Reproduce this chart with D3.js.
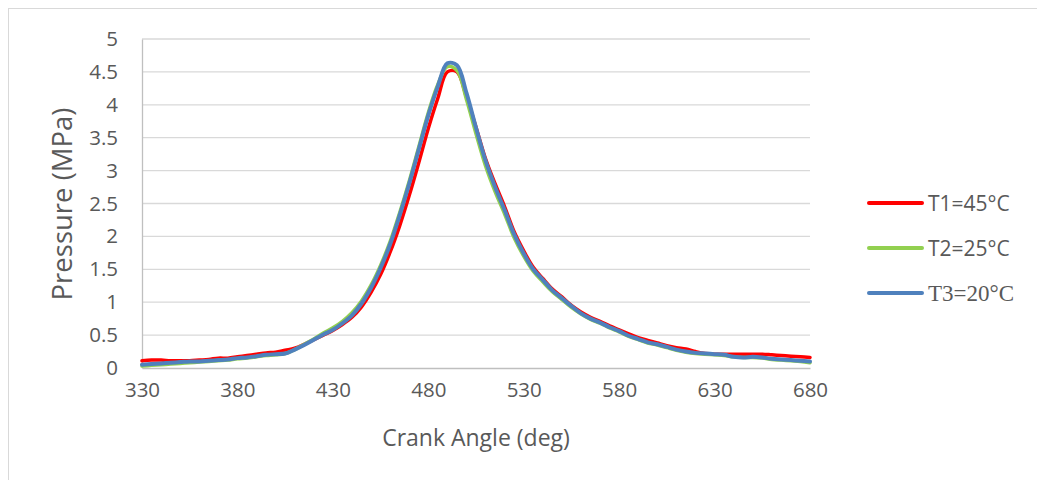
<html><head>
<meta charset="UTF-8">
<title>Pressure vs Crank Angle</title>
<style>
  body { margin: 0; padding: 0; background: #fff; overflow: hidden; }
  svg text { font-family: "Open Sans", Calibri, sans-serif; fill: #595959; }
</style>
</head>
<body>
<div id="chart"></div>
<script src="https://d3js.org/d3.v7.min.js"></script>
<script>
  const width = 1037;
  const height = 480;

  // crank angle, deg (5 deg steps)
  const angles = d3.range(330, 681, 5);

  // pressure, MPa
  const t1 = [0.11, 0.12, 0.12, 0.11, 0.11, 0.11, 0.12, 0.13, 0.15, 0.15,
              0.17, 0.19, 0.21, 0.23, 0.24, 0.27, 0.30, 0.36, 0.43, 0.50,
              0.57, 0.66, 0.77, 0.93, 1.15, 1.42, 1.76, 2.16, 2.62, 3.12,
              3.64, 4.10, 4.50, 4.50, 4.12, 3.66, 3.18, 2.80, 2.45, 2.07,
              1.78, 1.53, 1.36, 1.20, 1.08, 0.95, 0.85, 0.77, 0.71, 0.64,
              0.58, 0.52, 0.46, 0.42, 0.38, 0.34, 0.31, 0.29, 0.25, 0.22,
              0.21, 0.21, 0.21, 0.21, 0.21, 0.21, 0.20, 0.19, 0.18, 0.17, 0.16];

  const t2 = [0.03, 0.04, 0.05, 0.06, 0.07, 0.08, 0.09, 0.10, 0.11, 0.12,
              0.14, 0.15, 0.17, 0.19, 0.20, 0.22, 0.28, 0.36, 0.44, 0.53,
              0.61, 0.71, 0.84, 1.02, 1.26, 1.56, 1.92, 2.36, 2.84, 3.36,
              3.88, 4.31, 4.58, 4.52, 4.08, 3.56, 3.07, 2.68, 2.34, 1.98,
              1.70, 1.47, 1.31, 1.16, 1.04, 0.92, 0.82, 0.74, 0.68, 0.61,
              0.55, 0.48, 0.43, 0.38, 0.35, 0.31, 0.27, 0.24, 0.22, 0.21,
              0.20, 0.19, 0.17, 0.16, 0.16, 0.15, 0.13, 0.12, 0.11, 0.10, 0.08];

  const t3 = [0.05, 0.06, 0.07, 0.08, 0.09, 0.10, 0.10, 0.11, 0.12, 0.13,
              0.15, 0.16, 0.18, 0.20, 0.21, 0.22, 0.28, 0.35, 0.43, 0.51,
              0.58, 0.68, 0.80, 0.98, 1.22, 1.52, 1.88, 2.32, 2.80, 3.32,
              3.84, 4.28, 4.63, 4.60, 4.18, 3.65, 3.15, 2.75, 2.40, 2.03,
              1.74, 1.50, 1.34, 1.18, 1.06, 0.94, 0.83, 0.75, 0.69, 0.62,
              0.56, 0.49, 0.44, 0.39, 0.36, 0.32, 0.28, 0.25, 0.23, 0.22,
              0.21, 0.20, 0.17, 0.16, 0.17, 0.16, 0.14, 0.13, 0.12, 0.11, 0.10];

  const seriesNames = ["T1=45°C", "T2=25°C", "T3=20°C"];
  const xTicks = [330, 380, 430, 480, 530, 580, 630, 680];
  const yTicks = [0, 0.5, 1, 1.5, 2, 2.5, 3, 3.5, 4, 4.5, 5];

  const colors = ["#ff0000", "#92d050", "#4f81bd"];
  const widths = [3.5, 3.5, 4];

  const svg = d3.select("#chart").append("svg")
    .attr("width", width)
    .attr("height", height);

  // chart frame
  svg.append("rect")
    .attr("x", 8.5).attr("y", 8.5)
    .attr("width", 1040).attr("height", 480)
    .attr("fill", "none")
    .attr("stroke", "#d9d9d9");

  const x = d3.scaleLinear().domain([330, 680]).range([142, 810]);
  const y = d3.scaleLinear().domain([0, 5]).range([368, 39]);

  // gridlines
  svg.append("g")
    .selectAll("line")
    .data(yTicks.filter(d => d > 0))
    .enter().append("line")
    .attr("x1", x(330)).attr("x2", x(680))
    .attr("y1", d => y(d)).attr("y2", d => y(d))
    .attr("stroke", "#d9d9d9")
    .attr("stroke-width", 1.3);

  // axes
  const xAxis = svg.append("g")
    .attr("transform", `translate(0,${y(0)})`)
    .call(d3.axisBottom(x).tickValues(xTicks).tickSize(0).tickPadding(14));
  xAxis.select(".domain").attr("stroke", "#bfbfbf").attr("stroke-width", 1.3);
  xAxis.selectAll("text").attr("font-size", 20.5).attr("fill", "#595959");

  const yAxis = svg.append("g")
    .attr("transform", `translate(${x(330)},0)`)
    .call(d3.axisLeft(y).tickValues(yTicks).tickSize(0).tickPadding(24)
      .tickFormat(d3.format("")));
  yAxis.select(".domain").attr("stroke", "#bfbfbf").attr("stroke-width", 1.3);
  yAxis.selectAll("text").attr("font-size", 20.5).attr("fill", "#595959");

  // axis titles
  svg.append("text")
    .attr("x", 476).attr("y", 446)
    .attr("text-anchor", "middle")
    .attr("font-size", 23)
    .text("Crank Angle (deg)");

  svg.append("text")
    .attr("transform", "translate(72,204) rotate(-90)")
    .attr("text-anchor", "middle")
    .attr("font-size", 27.5)
    .text("Pressure (MPa)");

  // lines
  const line = d3.line()
    .x((d, i) => x(angles[i]))
    .y(d => y(d))
    .curve(d3.curveCatmullRom.alpha(0.5));

  [t1, t2, t3].forEach((vals, i) => {
    svg.append("path")
      .datum(vals)
      .attr("d", line)
      .attr("fill", "none")
      .attr("stroke", colors[i])
      .attr("stroke-width", widths[i])
      .attr("stroke-linejoin", "round")
      .attr("stroke-linecap", "round");
  });

  // legend
  const legend = svg.append("g");
  seriesNames.forEach((name, i) => {
    const ly = 203 + i * 45;
    legend.append("line")
      .attr("x1", 869).attr("x2", 922)
      .attr("y1", ly).attr("y2", ly)
      .attr("stroke", colors[i])
      .attr("stroke-width", 4)
      .attr("stroke-linecap", "round");
    legend.append("text")
      .attr("x", 928).attr("y", ly + 8)
      .attr("font-size", i === 2 ? 23 : 21)
      .style("font-family", i === 2 ? "'Liberation Serif', 'Times New Roman', serif" : null)
      .text(name);
  });
</script>
</body></html>
